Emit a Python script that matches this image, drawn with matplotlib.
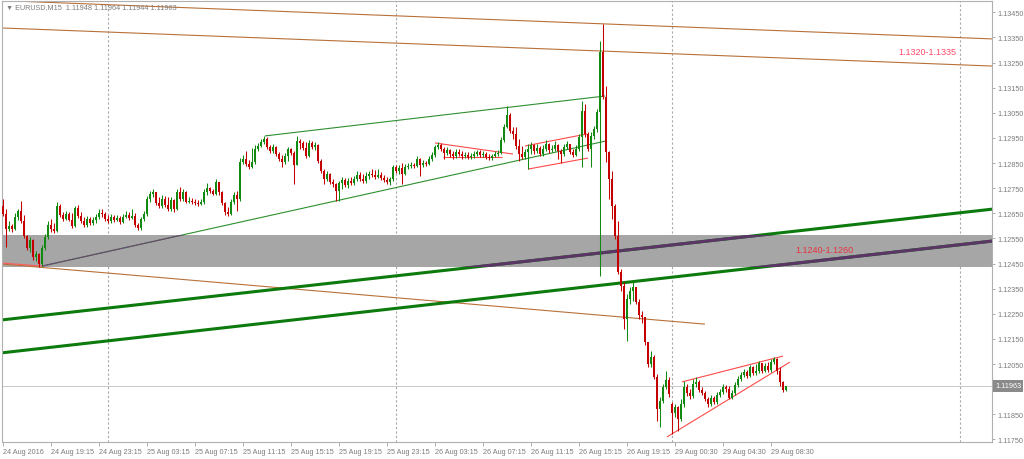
import matplotlib.pyplot as plt
from matplotlib.transforms import blended_transform_factory
import numpy as np

# EURUSD M15 candles, 24 Aug 2016 15:15 -> 29 Aug 2016 09:30
first_open = 1.12679
week_open = (223, 1.11891)  # Monday open after the weekend gap

closes = [
    1.12647, 1.12588, 1.12600, 1.12588, 1.12635, 1.12659, 1.12619, 1.12560, 1.12512, 1.12544,
    1.12476, 1.12488, 1.12448, 1.12512, 1.12556, 1.12604, 1.12588, 1.12580, 1.12679, 1.12643,
    1.12627, 1.12647, 1.12623, 1.12600, 1.12671, 1.12639, 1.12619, 1.12604, 1.12627, 1.12611,
    1.12623, 1.12635, 1.12651, 1.12647, 1.12627, 1.12619, 1.12635, 1.12623, 1.12631, 1.12615,
    1.12635, 1.12643, 1.12631, 1.12639, 1.12604, 1.12592, 1.12627, 1.12647, 1.12707, 1.12727,
    1.12735, 1.12691, 1.12679, 1.12707, 1.12683, 1.12667, 1.12703, 1.12667, 1.12735, 1.12707,
    1.12735, 1.12695, 1.12699, 1.12695, 1.12691, 1.12687, 1.12695, 1.12735, 1.12751, 1.12739,
    1.12727, 1.12775, 1.12735, 1.12691, 1.12655, 1.12647, 1.12695, 1.12723, 1.12707, 1.12854,
    1.12866, 1.12846, 1.12834, 1.12854, 1.12906, 1.12918, 1.12934, 1.12946, 1.12914, 1.12898,
    1.12914, 1.12886, 1.12866, 1.12854, 1.12878, 1.12906, 1.12890, 1.12842, 1.12938, 1.12930,
    1.12910, 1.12878, 1.12930, 1.12914, 1.12922, 1.12858, 1.12818, 1.12787, 1.12807, 1.12775,
    1.12767, 1.12739, 1.12771, 1.12783, 1.12763, 1.12779, 1.12771, 1.12787, 1.12803, 1.12787,
    1.12779, 1.12799, 1.12807, 1.12803, 1.12795, 1.12803, 1.12791, 1.12783, 1.12775, 1.12787,
    1.12834, 1.12818, 1.12830, 1.12807, 1.12834, 1.12838, 1.12842, 1.12838, 1.12866, 1.12842,
    1.12850, 1.12846, 1.12866, 1.12882, 1.12914, 1.12922, 1.12906, 1.12890, 1.12902, 1.12886,
    1.12878, 1.12894, 1.12886, 1.12878, 1.12882, 1.12874, 1.12878, 1.12886, 1.12894, 1.12882,
    1.12886, 1.12874, 1.12870, 1.12878, 1.12886, 1.12890, 1.12942, 1.12994, 1.13041, 1.12978,
    1.12966, 1.12918, 1.12886, 1.12874, 1.12894, 1.12906, 1.12922, 1.12898, 1.12910, 1.12886,
    1.12906, 1.12926, 1.12902, 1.12906, 1.12922, 1.12898, 1.12886, 1.12914, 1.12926, 1.12894,
    1.12882, 1.12906, 1.12954, 1.13057, 1.12966, 1.12906, 1.12958, 1.12986, 1.13053, 1.13292,
    1.13113, 1.12894, 1.12787, 1.12679, 1.12560, 1.12416, 1.12361, 1.12229, 1.12309, 1.12341,
    1.12357, 1.12297, 1.12245, 1.12237, 1.12138, 1.12050, 1.12078, 1.11999, 1.11871, 1.11903,
    1.11959, 1.11987, 1.11931, 1.11855, 1.11879, 1.11831, 1.11891, 1.11959, 1.11935, 1.11923,
    1.11971, 1.11979, 1.11947, 1.11935, 1.11911, 1.11891, 1.11915, 1.11899, 1.11927, 1.11939,
    1.11959, 1.11951, 1.11915, 1.11935, 1.11967, 1.11991, 1.12007, 1.12018, 1.12003, 1.12038,
    1.12014, 1.12022, 1.12054, 1.12022, 1.12042, 1.12026, 1.12058, 1.12070, 1.12022, 1.11979,
    1.11948, 1.11963,
]
highs = [
    1.12707, 1.12667, 1.12619, 1.12608, 1.12651, 1.12667, 1.12699, 1.12643, 1.12564, 1.12556,
    1.12548, 1.12500, 1.12492, 1.12524, 1.12568, 1.12619, 1.12627, 1.12611, 1.12695, 1.12687,
    1.12655, 1.12659, 1.12655, 1.12651, 1.12679, 1.12683, 1.12655, 1.12635, 1.12639, 1.12635,
    1.12635, 1.12647, 1.12667, 1.12667, 1.12655, 1.12643, 1.12647, 1.12643, 1.12643, 1.12639,
    1.12647, 1.12659, 1.12655, 1.12667, 1.12651, 1.12611, 1.12635, 1.12659, 1.12719, 1.12739,
    1.12747, 1.12735, 1.12715, 1.12723, 1.12719, 1.12715, 1.12715, 1.12707, 1.12747, 1.12755,
    1.12747, 1.12739, 1.12715, 1.12711, 1.12707, 1.12703, 1.12707, 1.12747, 1.12771, 1.12755,
    1.12747, 1.12787, 1.12775, 1.12739, 1.12695, 1.12675, 1.12707, 1.12735, 1.12739, 1.12870,
    1.12882, 1.12898, 1.12862, 1.12910, 1.12922, 1.12930, 1.12946, 1.12958, 1.12954, 1.12922,
    1.12926, 1.12918, 1.12894, 1.12882, 1.12890, 1.12914, 1.12910, 1.12898, 1.12958, 1.12946,
    1.12938, 1.12934, 1.12942, 1.12938, 1.12934, 1.12926, 1.12866, 1.12826, 1.12818, 1.12810,
    1.12787, 1.12771, 1.12779, 1.12795, 1.12791, 1.12791, 1.12795, 1.12799, 1.12818, 1.12814,
    1.12807, 1.12814, 1.12818, 1.12826, 1.12822, 1.12826, 1.12814, 1.12803, 1.12795, 1.12795,
    1.12842, 1.12842, 1.12842, 1.12850, 1.12846, 1.12850, 1.12854, 1.12850, 1.12878, 1.12870,
    1.12862, 1.12858, 1.12878, 1.12894, 1.12922, 1.12934, 1.12930, 1.12914, 1.12914, 1.12906,
    1.12898, 1.12906, 1.12906, 1.12898, 1.12894, 1.12894, 1.12890, 1.12898, 1.12902, 1.12902,
    1.12898, 1.12894, 1.12886, 1.12886, 1.12898, 1.12902, 1.12954, 1.13006, 1.13077, 1.13049,
    1.12994, 1.12994, 1.12946, 1.12918, 1.12906, 1.12926, 1.12934, 1.12926, 1.12926, 1.12918,
    1.12922, 1.12942, 1.12930, 1.12922, 1.12938, 1.12926, 1.12906, 1.12926, 1.12938, 1.12926,
    1.12906, 1.12922, 1.12966, 1.13097, 1.13085, 1.12974, 1.12974, 1.12998, 1.13065, 1.13336,
    1.13404, 1.13157, 1.12898, 1.12818, 1.12687, 1.12619, 1.12428, 1.12377, 1.12329, 1.12357,
    1.12377, 1.12357, 1.12309, 1.12261, 1.12237, 1.12138, 1.12102, 1.12086, 1.12011, 1.11919,
    1.11971, 1.12022, 1.11999, 1.11899, 1.11891, 1.11883, 1.11911, 1.11983, 1.11971, 1.11951,
    1.11991, 1.11999, 1.11987, 1.11959, 1.11943, 1.11919, 1.11927, 1.11923, 1.11939, 1.11951,
    1.11971, 1.11967, 1.11963, 1.11947, 1.11979, 1.12003, 1.12018, 1.12030, 1.12026, 1.12046,
    1.12042, 1.12050, 1.12062, 1.12054, 1.12054, 1.12058, 1.12070, 1.12078, 1.12074, 1.12038,
    1.11983, 1.11964,
]
lows = [
    1.12639, 1.12516, 1.12580, 1.12576, 1.12584, 1.12623, 1.12611, 1.12552, 1.12504, 1.12496,
    1.12464, 1.12460, 1.12436, 1.12440, 1.12504, 1.12548, 1.12576, 1.12572, 1.12576, 1.12635,
    1.12619, 1.12623, 1.12619, 1.12592, 1.12596, 1.12631, 1.12611, 1.12596, 1.12596, 1.12604,
    1.12604, 1.12611, 1.12627, 1.12635, 1.12619, 1.12611, 1.12611, 1.12615, 1.12619, 1.12608,
    1.12611, 1.12631, 1.12623, 1.12627, 1.12596, 1.12584, 1.12584, 1.12619, 1.12639, 1.12695,
    1.12715, 1.12683, 1.12671, 1.12671, 1.12675, 1.12659, 1.12659, 1.12655, 1.12663, 1.12699,
    1.12699, 1.12691, 1.12691, 1.12687, 1.12683, 1.12679, 1.12683, 1.12687, 1.12723, 1.12731,
    1.12723, 1.12723, 1.12723, 1.12683, 1.12643, 1.12639, 1.12643, 1.12687, 1.12659, 1.12699,
    1.12846, 1.12838, 1.12826, 1.12830, 1.12846, 1.12898, 1.12914, 1.12926, 1.12906, 1.12890,
    1.12890, 1.12878, 1.12858, 1.12834, 1.12846, 1.12858, 1.12882, 1.12767, 1.12842, 1.12906,
    1.12902, 1.12870, 1.12874, 1.12906, 1.12902, 1.12850, 1.12810, 1.12767, 1.12779, 1.12767,
    1.12755, 1.12699, 1.12699, 1.12747, 1.12755, 1.12751, 1.12763, 1.12763, 1.12779, 1.12779,
    1.12771, 1.12771, 1.12787, 1.12795, 1.12787, 1.12791, 1.12783, 1.12775, 1.12767, 1.12763,
    1.12779, 1.12810, 1.12807, 1.12767, 1.12803, 1.12826, 1.12830, 1.12830, 1.12834, 1.12799,
    1.12834, 1.12838, 1.12842, 1.12858, 1.12874, 1.12906, 1.12898, 1.12866, 1.12882, 1.12874,
    1.12866, 1.12870, 1.12878, 1.12866, 1.12870, 1.12866, 1.12866, 1.12870, 1.12878, 1.12874,
    1.12874, 1.12866, 1.12862, 1.12862, 1.12874, 1.12878, 1.12886, 1.12934, 1.12990, 1.12970,
    1.12946, 1.12906, 1.12858, 1.12866, 1.12866, 1.12826, 1.12886, 1.12886, 1.12890, 1.12878,
    1.12878, 1.12898, 1.12890, 1.12894, 1.12898, 1.12866, 1.12850, 1.12878, 1.12906, 1.12886,
    1.12874, 1.12878, 1.12898, 1.12834, 1.12954, 1.12898, 1.12834, 1.12946, 1.12974, 1.12401,
    1.13105, 1.12854, 1.12707, 1.12627, 1.12548, 1.12409, 1.12341, 1.12190, 1.12142, 1.12289,
    1.12301, 1.12289, 1.12229, 1.12213, 1.12126, 1.12038, 1.12038, 1.11991, 1.11823, 1.11800,
    1.11895, 1.11951, 1.11919, 1.11772, 1.11839, 1.11784, 1.11823, 1.11879, 1.11923, 1.11911,
    1.11915, 1.11959, 1.11939, 1.11927, 1.11903, 1.11879, 1.11883, 1.11891, 1.11891, 1.11919,
    1.11931, 1.11939, 1.11911, 1.11911, 1.11927, 1.11959, 1.11983, 1.11999, 1.11995, 1.11999,
    1.12007, 1.12007, 1.12014, 1.12014, 1.12018, 1.12018, 1.12018, 1.12050, 1.12011, 1.11963,
    1.11939, 1.11944,
]

last_price = 1.11963
title = "\u25BC EURUSD,M15  1.11948 1.11964 1.11944 1.11963"

price_ticks = [1.11750, 1.11850, 1.11950, 1.12050, 1.12150, 1.12250, 1.12350, 1.12450, 1.12550,
               1.12650, 1.12750, 1.12850, 1.12950, 1.13050, 1.13150, 1.13250, 1.13350, 1.13450]
time_bars = [0, 16, 32, 48, 64, 80, 96, 112, 128, 144, 160, 176, 192, 208, 224, 240, 256]
time_labels = ["24 Aug 2016", "24 Aug 19:15", "24 Aug 23:15", "25 Aug 03:15", "25 Aug 07:15",
               "25 Aug 11:15", "25 Aug 15:15", "25 Aug 19:15", "25 Aug 23:15", "26 Aug 03:15",
               "26 Aug 07:15", "26 Aug 11:15", "26 Aug 15:15", "26 Aug 19:15", "29 Aug 00:30",
               "29 Aug 04:30", "29 Aug 08:30"]
day_starts = [35, 131, 223, 319]

# support zone and its label
zone_low, zone_high = 1.12436, 1.12564
zone_label = (264, 1.12508, "1.1240-1.1260")
resist_label = (298.3, 1.13296, "1.1320-1.1335")

# trendlines as (bar, price) pairs
resist_top = [(-1, 1.13497), (330, 1.13344)]
resist_bottom = [(-1, 1.13388), (330, 1.13236)]
brown_down = [(0, 1.12448), (234, 1.12209)]
red_start = [(-0.3, 1.12452), (13.3, 1.12440)]
channel_low = [(13, 1.12440), (201, 1.12938)]
channel_high = [(87.3, 1.12958), (200.7, 1.13117)]
thick_upper = [(-1, 1.12225), (330, 1.12667)]
thick_lower = [(-1, 1.12094), (330, 1.12540)]
tri_upper = [(144, 1.12930), (170, 1.12886)]
tri_lower = [(146.7, 1.12874), (166.3, 1.12874)]
flag_upper = [(174, 1.12918), (194.7, 1.12966)]
flag_lower = [(175, 1.12826), (195, 1.12870)]
wedge_upper = [(226.3, 1.11979), (260, 1.12082)]
wedge_lower = [(221.3, 1.11760), (262.3, 1.12058)]

plt.rcParams["font.family"] = ["Liberation Sans", "DejaVu Sans"]
grey_txt = "#7c7c7c"

fig = plt.figure(figsize=(10.24, 4.6), dpi=100)
ax = fig.add_axes([2 / 1024, 17 / 460, 990 / 1024, 441 / 460])
ax.set_xlim(-0.33, 329.67)
ax.set_ylim(1.11740, 1.13495)

# zone band
band = ax.axhspan(zone_low, zone_high, color="#a6a6a6", lw=0, zorder=1)

# last price line and day separators
ax.axhline(last_price, color="#c8c8c8", lw=0.7, zorder=0.5)
for d in day_starts:
    ax.axvline(d, color="#a8a8a8", lw=0.8, ls=(0, (2, 2)), zorder=0.6)


def seg(pts, color, lw, purple=None):
    xs = [p[0] for p in pts]
    ys = [p[1] for p in pts]
    ax.plot(xs, ys, color=color, lw=lw, zorder=2, solid_capstyle="butt")
    if purple:
        ln, = ax.plot(xs, ys, color=purple, lw=lw, zorder=2.1, solid_capstyle="butt")
        ln.set_clip_path(band)


brown = "#b87038"
seg(resist_top, brown, 0.8)
seg(resist_bottom, brown, 0.8)
seg(brown_down, brown, 0.8)
seg(red_start, "#ff5a5a", 0.8)
seg(channel_low, "#2f8f2f", 0.8, purple="#6e4675")
seg(channel_high, "#2f8f2f", 0.8)
seg(thick_upper, "#0c7a0c", 2.2, purple="#5a3566")
seg(thick_lower, "#0c7a0c", 2.2, purple="#5a3566")
for pts in (tri_upper, tri_lower, flag_upper, flag_lower, wedge_upper, wedge_lower):
    seg(pts, "#ff4a4a", 0.8)

# candles
c = np.array(closes)
h = np.array(highs)
l = np.array(lows)
o = np.r_[first_open, c[:-1]]
o[week_open[0]] = week_open[1]
x = np.arange(len(c))
up = c >= o
cols = np.where(up, "#128a12", "#c40000")
ax.vlines(x, np.minimum(l, np.minimum(o, c)), np.maximum(h, np.maximum(o, c)),
          colors=cols, lw=0.75, zorder=3)
ax.bar(x, np.maximum(np.abs(c - o), 0.00002), bottom=np.minimum(o, c), width=0.66,
       color=cols, lw=0, zorder=4)

# zone labels
ax.text(zone_label[0], zone_label[1], zone_label[2], color="#e8323c", fontsize=6.5,
        va="center", ha="left", zorder=5)
ax.text(resist_label[0], resist_label[1], resist_label[2], color="#ff4a68", fontsize=6.5,
        va="center", ha="left", zorder=5)

# axes styling
for s in ax.spines.values():
    s.set_color("#b0b0b0")
    s.set_linewidth(0.8)
ax.yaxis.tick_right()
ax.set_yticks(price_ticks)
# the 1.11950 label sits under the last-price box, as in the terminal
ax.set_yticklabels(["" if abs(p - last_price) < 0.0003 else f"{p:.5f}" for p in price_ticks])
ax.set_xticks(time_bars)
ax.set_xticklabels(time_labels, ha="left")
ax.tick_params(axis="y", labelsize=5.2, colors="#a0a0a0", labelcolor=grey_txt,
               length=2.5, width=0.6, pad=1.5)
ax.tick_params(axis="x", labelsize=5.2, colors="#a0a0a0", labelcolor=grey_txt,
               length=3, width=0.6, pad=1.5)

trans = blended_transform_factory(ax.transAxes, ax.transData)
ax.text(1.003, last_price, f"{last_price:.5f}", transform=trans, ha="left", va="center",
        fontsize=5.2, color="white", zorder=10, clip_on=False,
        bbox=dict(boxstyle="square,pad=0.3", fc="#8a8a8a", ec="none"))

fig.text(6 / 1024, 1 - 8 / 460, title, fontsize=5.2, color=grey_txt, va="center", ha="left")

fig.savefig("out.png", dpi=100)
